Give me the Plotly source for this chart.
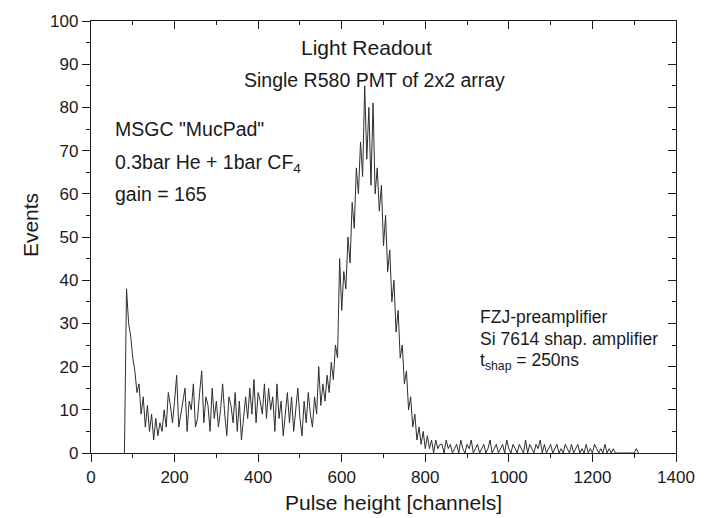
import plotly.graph_objects as go

# --- data (bin start channel, 5-channel bins) ---
bin_start = 80
bin_width = 5
counts = [
    # 80 .. 175
    0, 38, 30, 27, 22, 19, 14, 16, 9, 13, 6, 11, 5, 9, 3, 8, 4, 7, 5, 10,
    # 180 .. 275
    6, 14, 11, 7, 12, 18, 6, 9, 13, 15, 5, 12, 10, 16, 6, 8, 14, 19, 7, 13,
    # 280 .. 375
    11, 5, 15, 8, 12, 6, 10, 16, 9, 4, 13, 11, 7, 14, 5, 12, 3, 9, 13, 8,
    # 380 .. 475
    15, 9, 17, 7, 14, 12, 9, 16, 8, 15, 10, 13, 5, 16, 8, 12, 4, 9, 14, 7,
    # 480 .. 575
    13, 5, 11, 15, 8, 4, 12, 7, 14, 9, 6, 13, 9, 20, 11, 16, 12, 18, 14, 21,
    # 580 .. 675
    17, 25, 22, 45, 33, 42, 38, 50, 44, 58, 52, 66, 60, 72, 64, 85, 68, 80, 62, 81,
    # 680 .. 775
    60, 66, 56, 62, 48, 55, 42, 47, 35, 40, 28, 33, 22, 25, 16, 19, 10, 13, 6, 9,
    # 780 .. 835
    3, 6, 2, 5, 1, 4, 1, 3, 0, 3, 1, 2,
    # 840 .. 1255
    2, 0, 3, 1, 2, 0, 1, 2, 0, 3, 1, 0, 2, 1, 3, 0, 1, 2, 0, 1,
    2, 0, 1, 3, 0, 1, 2, 0, 1, 2, 0, 3, 1, 0, 2, 1, 0, 2, 1, 0,
    3, 0, 2, 1, 0, 2, 1, 3, 0, 2, 0, 1, 2, 0, 1, 2, 0, 1, 0, 2,
    1, 0, 2, 0, 1, 2, 0, 1, 0, 2, 0, 1, 0, 2, 1, 0, 1, 0, 2, 0,
    1, 0, 1, 0,
    # 1260 .. 1310
    0, 0, 0, 0, 0, 0, 0, 0, 0, 1, 0,
]
channels = [bin_start + bin_width * i for i in range(len(counts))]

x_ticks = [0, 200, 400, 600, 800, 1000, 1200, 1400]
y_ticks = [0, 10, 20, 30, 40, 50, 60, 70, 80, 90, 100]

FONT = "Liberation Sans, Arial, sans-serif"
INK = "#1a1a1a"

fig = go.Figure()
fig.add_trace(go.Scatter(
    x=channels, y=counts, mode="lines", line=dict(color="#2e2e2e", width=1.0, shape="linear"),
    showlegend=False, hoverinfo="skip"))
# invisible trace for mirrored axes
fig.add_trace(go.Scatter(x=[0], y=[0], xaxis="x2", yaxis="y2", mode="markers",
                         marker=dict(opacity=0), showlegend=False, hoverinfo="skip"))

common = dict(showline=True, linecolor=INK, linewidth=1.3, showgrid=False, zeroline=False,
              ticklen=8, tickwidth=1.3, tickcolor=INK)

fig.update_layout(
    width=707, height=518,
    margin=dict(l=91, r=24, t=15, b=65),
    paper_bgcolor="white", plot_bgcolor="white",
    font=dict(family=FONT, color=INK),
    xaxis=dict(range=[0, 1400], tickvals=x_ticks, ticks="outside",
               minor=dict(dtick=100, ticklen=4, tickwidth=1.2, tickcolor=INK, ticks="outside"),
               tickfont=dict(size=17, family=FONT, color=INK),
               **common),
    yaxis=dict(range=[0, 100], tickvals=y_ticks, ticks="outside",
               minor=dict(dtick=5, ticklen=4, tickwidth=1.2, tickcolor=INK, ticks="outside"),
               tickfont=dict(size=17, family=FONT, color=INK),
               **common),
    xaxis2=dict(range=[0, 1400], overlaying="x", side="top", tickvals=x_ticks, ticks="inside",
                showticklabels=False,
                minor=dict(dtick=100, ticklen=4, tickwidth=1.2, tickcolor=INK, ticks="inside"),
                **common),
    yaxis2=dict(range=[0, 100], overlaying="y", side="right", tickvals=y_ticks, ticks="inside",
                showticklabels=False,
                minor=dict(dtick=5, ticklen=4, tickwidth=1.2, tickcolor=INK, ticks="inside"),
                **common),
)

# axis titles
fig.add_annotation(x=0.517, y=-0.114, xref="paper", yref="paper", text="Pulse height [channels]",
                   showarrow=False, xanchor="center", yanchor="middle",
                   font=dict(size=21, family=FONT, color=INK))
fig.add_annotation(x=-0.103, y=0.527, xref="paper", yref="paper", text="Events", textangle=-90,
                   showarrow=False, xanchor="center", yanchor="middle",
                   font=dict(size=21, family=FONT, color=INK))

def ann(x, y, text, size, anchor="left", yanchor="middle"):
    fig.add_annotation(x=x, y=y, xref="x", yref="y", text=text, showarrow=False,
                       xanchor=anchor, yanchor=yanchor,
                       font=dict(size=size, family=FONT, color=INK))

ann(660, 93.8, "Light Readout", 21, "center")
ann(679, 86.3, "Single R580 PMT of 2x2 array", 19.5, "center")
ann(52, 74.9, "MSGC \"MucPad\"", 19.5)
ann(52, 66.9, "0.3bar He + 1bar CF<sub>4</sub>", 19.5)
ann(52, 60.0, "gain = 165", 19.5)
ann(927, 31.5, "FZJ-preamplifier", 17.5)
ann(927, 26.5, "Si 7614 shap. amplifier", 17.5)
ann(927, 21.2, "t<sub>shap</sub> = 250ns", 17.5)

fig.write_html("out.html")
